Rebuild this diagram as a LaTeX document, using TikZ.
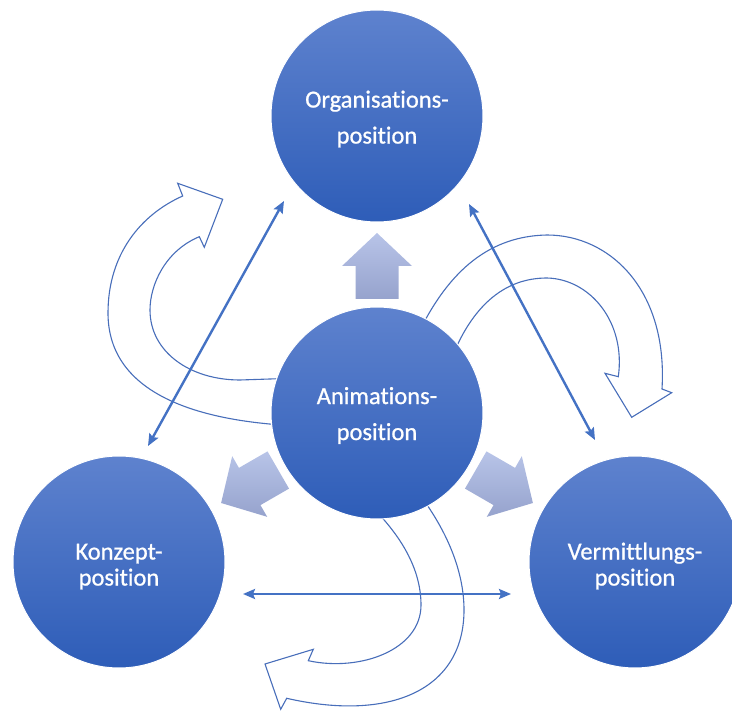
\documentclass[tikz,border=0pt]{standalone}
\usepackage{fontspec}
\setmainfont{Carlito}
\newfontfamily\posfont{Carlito}[FakeBold=0.8, Ligatures=NoCommon]
\usetikzlibrary{arrows.meta,calc}
\definecolor{circtop}{RGB}{94,130,206}
\definecolor{circbot}{RGB}{46,93,184}
\definecolor{linkblue}{RGB}{68,114,196}
\definecolor{bandline}{RGB}{72,110,186}
\definecolor{blocktop}{RGB}{184,196,232}
\definecolor{blockbot}{RGB}{150,163,205}
\pgfdeclarelayer{back}
\pgfsetlayers{back,main}
\newcommand\toprow[1]{\rule{0pt}{#1}}
\begin{document}
\begin{tikzpicture}[x=1pt,y=-1pt,
  position/.style={circle, inner sep=0pt, minimum size=212pt,
    top color=circtop, bottom color=circbot, draw=white, line width=1pt,
    text=white, align=center},
  wide/.style={font=\posfont\fontsize{24.5}{36}\selectfont},
  tight/.style={font=\posfont\fontsize{24.5}{26}\selectfont},
  link/.style={draw=linkblue, line width=2.4pt,
    arrows={Stealth[length=12pt,width=10pt,inset=2pt]-Stealth[length=12pt,width=10pt,inset=2pt]}},
  band/.style={draw=bandline, line width=1.1pt, fill=white, line join=miter},
  block/.style={top color=blocktop, bottom color=blockbot, draw=none}
]
\useasboundingbox (0,0) rectangle (732,711);
\clip (0,0) rectangle (732,711);

% the four positions
\node[position, wide]  (orga) at (377,116) {\toprow{23pt}Organisations-\\position};
\node[position, wide]  (anim) at (377,413) {\toprow{22pt}Animations-\\position};
\node[position, tight] (konz) at (119,562) {\toprow{25pt}Konzept-\\position};
\node[position, tight] (verm) at (635,562) {\toprow{25pt}Vermittlungs-\\position};

% ends of the double-headed links
\coordinate (ko-k) at (148,446);
\coordinate (ko-o) at (284,201);
\coordinate (ov-o) at (469,204);
\coordinate (ov-v) at (595,440);
\coordinate (kv-k) at (243,594);
\coordinate (kv-v) at (511,594);

\begin{pgfonlayer}{back}
  % curved outline arrows leaving the central position
  \draw[band] (300,426) .. controls (200,422) and (108,395) .. (108,313)
    .. controls (108,255) and (140,215) .. (182.7,196)
    -- (177.7,183.3) -- (222.7,199.3) -- (204.3,247.3) -- (199.3,236.7)
    .. controls (165,251) and (150,285) .. (150,310)
    .. controls (150,352) and (190,380) .. (240,380) -- (300,378) -- cycle;
  \draw[band] (420,330) .. controls (450,270) and (490,236) .. (547,235)
    .. controls (610,235) and (668,290) .. (662,389)
    -- (671.7,392.7) -- (631.7,417.3) -- (605,373.3) -- (618.3,376.7)
    .. controls (626,322) and (590,279) .. (547,278)
    .. controls (505,278) and (475,305) .. (455,350) -- cycle;
  \draw[band] (420,495) .. controls (446,530) and (464,570) .. (464,610)
    .. controls (464,690) and (390,722) .. (286.7,698.3)
    -- (280.7,709.3) -- (265,664) -- (313.3,649.3) -- (308.3,660.7)
    .. controls (360,672) and (421,650) .. (421,605)
    .. controls (421,568) and (400,535) .. (372,507) -- cycle;

  % links between the outer positions
  \draw[link] (ko-k) -- (ko-o);
  \draw[link] (ov-o) -- (ov-v);
  \draw[link] (kv-k) -- (kv-v);
\end{pgfonlayer}

% shaded block arrows pointing outwards from the centre
\foreach \a in {-90,150,30} {
  \pgfmathsetmacro\lft{\a+90}
  \pgfmathsetmacro\rgt{\a-90}
  \path[block] ($(anim)+(\a:114)+(\lft:21.5)$) -- ($(anim)+(\a:147)+(\lft:21.5)$)
    -- ($(anim)+(\a:147)+(\lft:35)$) -- ($(anim)+(\a:180)$)
    -- ($(anim)+(\a:147)+(\rgt:35)$) -- ($(anim)+(\a:147)+(\rgt:21.5)$)
    -- ($(anim)+(\a:114)+(\rgt:21.5)$) -- cycle;
}
\end{tikzpicture}
\end{document}
